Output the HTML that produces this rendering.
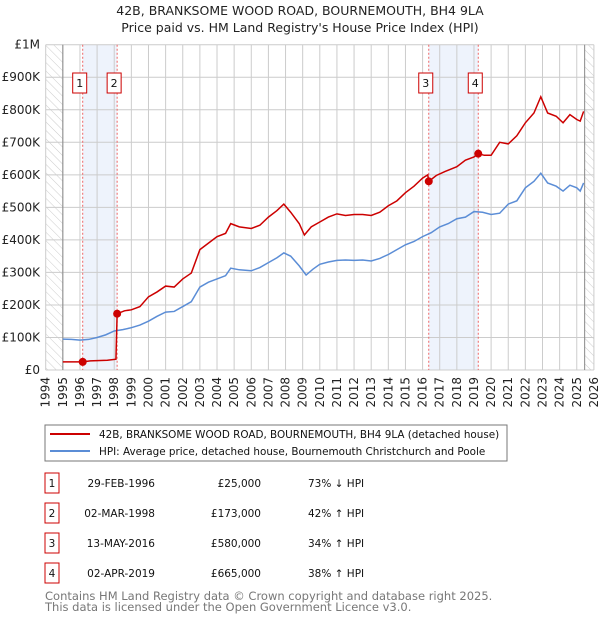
<!DOCTYPE html>
<html><head><meta charset="utf-8"><style>
body{margin:0;background:#fff;font-family:"DejaVu Sans","Liberation Sans",sans-serif;}
svg text{font-family:"DejaVu Sans","Liberation Sans",sans-serif;}
</style></head><body>
<svg id="chart" width="600" height="620" viewBox="0 0 600 620" xmlns="http://www.w3.org/2000/svg">
<defs><pattern id="hatch" width="6" height="6" patternUnits="userSpaceOnUse" patternTransform="rotate(-45)"><line x1="0" y1="0" x2="0" y2="6" stroke="#ccc" stroke-width="1"/></pattern></defs>
<text x="300" y="15" text-anchor="middle" font-size="12.5" fill="#222">42B, BRANKSOME WOOD ROAD, BOURNEMOUTH, BH4 9LA</text>
<text x="300" y="32" text-anchor="middle" font-size="12.5" fill="#222">Price paid vs. HM Land Registry's House Price Index (HPI)</text>
<g id="grid"></g><g id="marks"></g><g id="axes"></g>
<rect x="45" y="425" width="462" height="36" fill="#fff" stroke="#777"/>
<line x1="50" y1="434" x2="90" y2="434" stroke="#cc0000" stroke-width="2"/>
<text x="99" y="438" font-size="10.4" fill="#111">42B, BRANKSOME WOOD ROAD, BOURNEMOUTH, BH4 9LA (detached house)</text>
<line x1="50" y1="451" x2="90" y2="451" stroke="#5b8dd6" stroke-width="2"/>
<text x="99" y="455" font-size="10.4" fill="#111">HPI: Average price, detached house, Bournemouth Christchurch and Poole</text>
<g id="table"></g>
<text x="45" y="600" font-size="11.5" fill="#777">Contains HM Land Registry data © Crown copyright and database right 2025.</text>
<text x="45" y="611" font-size="11.5" fill="#777">This data is licensed under the Open Government Licence v3.0.</text>
</svg>
<script>
const yTicks=[0,100,200,300,400,500,600,700,800,900,1000];
const yTickLabels=["£0","£100K","£200K","£300K","£400K","£500K","£600K","£700K","£800K","£900K","£1M"];
const xYears=[1994,1995,1996,1997,1998,1999,2000,2001,2002,2003,2004,2005,2006,2007,2008,2009,2010,2011,2012,2013,2014,2015,2016,2017,2018,2019,2020,2021,2022,2023,2024,2025,2026];
const hpiT=[1995,1995.5,1996,1996.5,1997,1997.5,1998,1998.5,1999,1999.5,2000,2000.5,2001,2001.5,2002,2002.5,2003,2003.5,2004,2004.5,2004.8,2005.3,2006,2006.5,2007,2007.5,2007.9,2008.3,2008.8,2009.2,2009.6,2010,2010.5,2011,2011.5,2012,2012.5,2013,2013.5,2014,2014.5,2015,2015.5,2016,2016.5,2017,2017.5,2018,2018.5,2019,2019.5,2020,2020.5,2021,2021.5,2022,2022.5,2022.9,2023.3,2023.8,2024.2,2024.6,2025,2025.2,2025.4];
const hpiV=[95,94,92,94,100,108,120,124,130,138,150,165,178,180,195,210,255,270,280,290,313,308,305,315,330,345,360,350,320,292,310,325,332,337,338,337,338,335,343,355,370,385,395,410,422,440,450,465,470,487,485,478,482,510,520,560,580,605,575,565,550,568,560,550,575];
const propT=[1995,1995.5,1996.16,1996.6,1997,1997.6,1998.1,1998.17,1998.6,1999,1999.5,2000,2000.5,2001,2001.5,2002,2002.5,2003,2003.5,2004,2004.5,2004.8,2005.3,2006,2006.5,2007,2007.5,2007.9,2008.3,2008.8,2009.1,2009.5,2010,2010.5,2011,2011.5,2012,2012.5,2013,2013.5,2014,2014.5,2015,2015.5,2016,2016.3,2016.36,2016.8,2017.3,2018,2018.5,2019,2019.25,2019.6,2020,2020.5,2021,2021.5,2022,2022.5,2022.9,2023.3,2023.8,2024.2,2024.6,2025,2025.2,2025.4];
const propV=[25,25,25,28,29,30,33,173,182,185,195,225,240,258,255,280,298,370,390,410,420,450,440,435,445,470,490,510,485,450,415,440,455,470,480,475,478,478,475,485,505,520,545,565,590,600,580,598,610,625,645,655,665,660,660,700,695,720,760,790,840,790,780,760,785,770,765,795];
const saleT=[1996.16,1998.17,2016.36,2019.25];
const saleV=[25,173,580,665];
const saleLabels=["1","2","3","4"];
const saleDates=["29-FEB-1996","02-MAR-1998","13-MAY-2016","02-APR-2019"];
const salePrices=["£25,000","£173,000","£580,000","£665,000"];
const saleHpi=["73% ↓ HPI","42% ↑ HPI","34% ↑ HPI","38% ↑ HPI"];

const X0=45.7,X1=593.9,Y0=370,Y1=44.7;
const x=t=>X0+(t-1994)/(2026-1994)*(X1-X0);
const y=v=>Y0-v/1000*(Y0-Y1);
const NS="http://www.w3.org/2000/svg";
function mk(tag,at,parent){const e=document.createElementNS(NS,tag);for(const k in at)e.setAttribute(k,at[k]);parent.appendChild(e);return e;}
const grid=document.getElementById('grid'),marks=document.getElementById('marks'),axes=document.getElementById('axes'),table=document.getElementById('table');
let b1=mk('rect',{x:x(saleT[0]),y:Y1,width:x(saleT[1])-x(saleT[0]),height:Y0-Y1,fill:'#eef3fc'},grid);

let b2=mk('rect',{x:x(saleT[2]),y:Y1,width:x(saleT[3])-x(saleT[2]),height:Y0-Y1,fill:'#eef3fc'},grid);

let h1=mk('rect',{x:X0,y:Y1,width:x(1995)-X0,height:Y0-Y1,fill:'url(#hatch)'},grid);

let h2=mk('rect',{x:x(2025.46),y:Y1,width:X1-x(2025.46),height:Y0-Y1,fill:'url(#hatch)'},grid);

yTicks.forEach((v,i)=>{
  let l=mk('line',{x1:X0,x2:X1,y1:y(v),y2:y(v),stroke:'#ccc','stroke-width':1},grid);
  
  let t=mk('text',{x:40,y:y(v)+4,'text-anchor':'end','font-size':12,fill:'#222'},axes);t.textContent=yTickLabels[i];
  
});
xYears.forEach(yr=>{
  let l=mk('line',{x1:x(yr),x2:x(yr),y1:Y1,y2:Y0,stroke:'#ccc','stroke-width':1},grid);
  
  let t=mk('text',{x:0,y:0,'text-anchor':'end','font-size':12,fill:'#222',transform:`translate(${x(yr)+4},${Y0+7}) rotate(-90)`},axes);t.textContent=yr;
  
});
let vl=mk('line',{x1:x(1995),x2:x(1995),y1:Y1,y2:Y0,stroke:'#888'},grid);
let vr=mk('line',{x1:x(2025.46),x2:x(2025.46),y1:Y1,y2:Y0,stroke:'#888'},grid);
saleT.forEach((t,i)=>{
  let l=mk('line',{x1:x(t),x2:x(t),y1:Y1,y2:Y0,stroke:'#e66','stroke-dasharray':'2,2'},grid);
  
  let r=mk('rect',{x:x(t)-10,y:73,width:14,height:20,fill:'#fff',stroke:'#cc0000'},axes);
  
  let tx=mk('text',{x:x(t)-3,y:87,'text-anchor':'middle','font-size':11,fill:'#111'},axes);tx.textContent=saleLabels[i];
  
});
let hp=mk('polyline',{points:hpiT.map((t,i)=>x(t)+','+y(hpiV[i])).join(' '),fill:'none',stroke:'#5b8dd6','stroke-width':1.5},marks);

let pp=mk('polyline',{points:propT.map((t,i)=>x(t)+','+y(propV[i])).join(' '),fill:'none',stroke:'#cc0000','stroke-width':1.5},marks);

saleT.forEach((t,i)=>{
  let c=mk('circle',{cx:x(t),cy:y(saleV[i]),r:4,fill:'#cc0000'},marks);
  
});
saleLabels.forEach((s,i)=>{
  const cy=483+i*30;
  let r=mk('rect',{x:45,y:cy-10,width:14,height:20,fill:'#fff',stroke:'#cc0000'},table);
  
  let a=mk('text',{x:52,y:cy+4,'text-anchor':'middle','font-size':10.5,fill:'#111'},table);a.textContent=s;
  
  let d=mk('text',{x:155,y:cy+4,'text-anchor':'end','font-size':10.5,fill:'#111'},table);d.textContent=saleDates[i];
  
  let p=mk('text',{x:261,y:cy+4,'text-anchor':'end','font-size':10.5,fill:'#111'},table);p.textContent=salePrices[i];
  
  let h=mk('text',{x:308,y:cy+4,'font-size':10.5,fill:'#111'},table);h.textContent=saleHpi[i];
  
});
</script>
</body></html>
